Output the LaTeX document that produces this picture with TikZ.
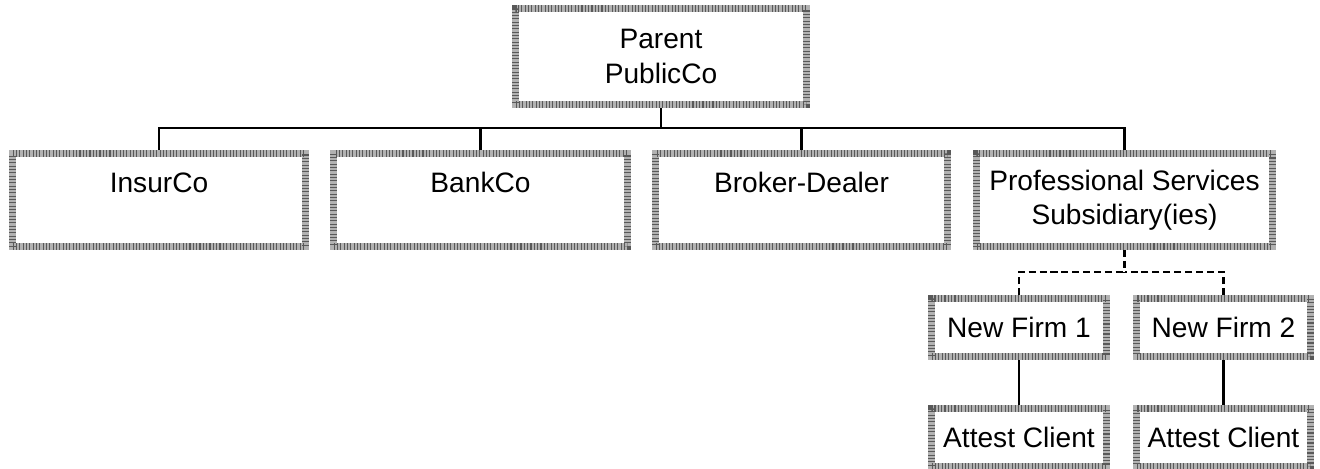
\documentclass[tikz,border=0pt]{standalone}
\usepackage{fontspec}
\setmainfont{Liberation Sans}

\begin{document}
\begin{tikzpicture}[
x=0.02cm, y=-0.02cm,
box/.style={draw=black!30, line width=4pt, fill=white, inner sep=0pt,
  align=center, font=\fontsize{16}{19.5}\selectfont,
  postaction={draw=black!65, line width=4pt, dash pattern=on 0.6pt off 1.3pt}},
topbox/.style={box, text height=0.77cm, text depth=1.09cm},
link/.style={line width=1.3pt},
maybelink/.style={line width=1.3pt, dash pattern=on 4pt off 2.2pt}]

\useasboundingbox (0,0) rectangle (1320,468);

% Boxes
\node[box, minimum width=5.82cm, minimum height=1.92cm] (parent) at (661,56.5) {Parent\\PublicCo};

\node[topbox, minimum width=5.86cm, minimum height=1.86cm] (insur) at (159,200) {InsurCo};
\node[topbox, minimum width=5.88cm, minimum height=1.86cm] (bank) at (480.5,200) {BankCo};
\node[topbox, minimum width=5.84cm, minimum height=1.86cm] (broker) at (801.5,200) {Broker-Dealer};
\node[box, minimum width=5.92cm, minimum height=1.86cm] (prof) at (1124.5,200) {Professional Services\\Subsidiary(ies)};

\node[box, minimum width=3.5cm, minimum height=1.16cm] (firm1) at (1019,327.5) {New Firm 1};
\node[box, minimum width=3.48cm, minimum height=1.16cm] (firm2) at (1223.5,327.5) {New Firm 2};
\node[box, minimum width=3.5cm, minimum height=1.16cm] (client1) at (1019,437.5) {Attest Client};
\node[box, minimum width=3.48cm, minimum height=1.16cm] (client2) at (1223.5,437.5) {Attest Client};

% Connectors
\coordinate (bus) at (661,128);
\draw[link] (parent.south) -- (bus);
\draw[link] (insur.north) |- (bus);
\draw[link] (bank.north) |- (bus);
\draw[link] (broker.north) |- (bus);
\draw[link] (prof.north) |- (bus);

\coordinate (split) at (1124.5,272);
\draw[maybelink] (prof.south) -- (split);
\draw[maybelink] (firm1.north) |- (split);
\draw[maybelink] (firm2.north) |- (split);

\draw[link] (firm1.south) -- (client1.north);
\draw[link] (firm2.south) -- (client2.north);

\end{tikzpicture}
\end{document}
